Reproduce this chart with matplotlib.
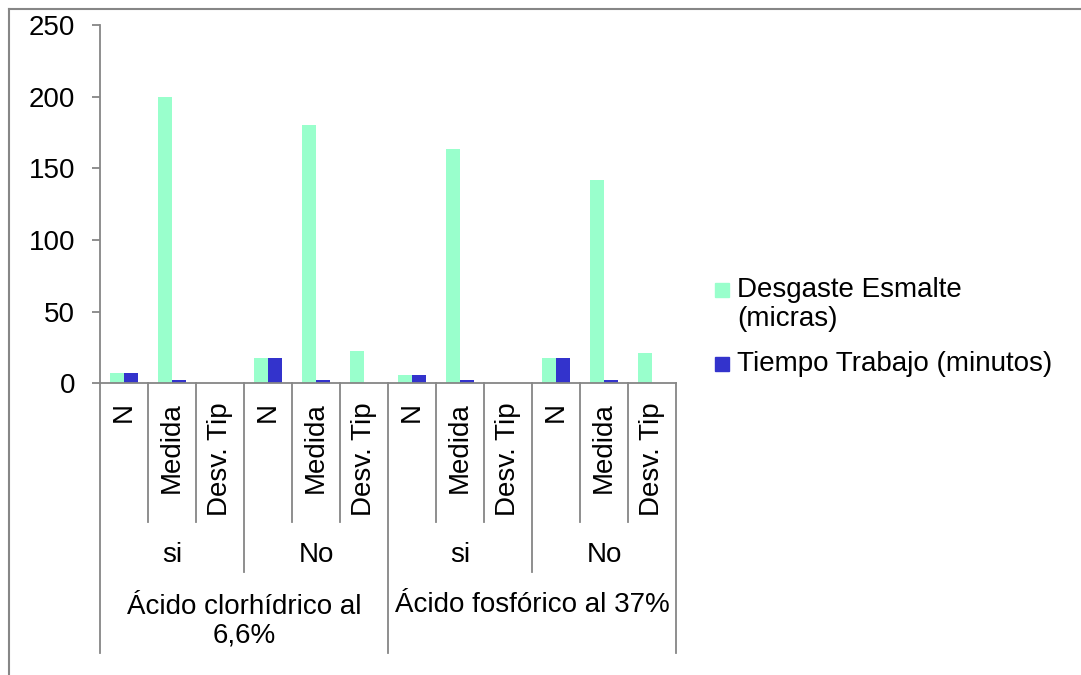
import matplotlib.pyplot as plt
from matplotlib.patches import Rectangle
from matplotlib.lines import Line2D
from matplotlib.transforms import blended_transform_factory
import numpy as np

plt.rcParams['font.family'] = ['Liberation Sans', 'DejaVu Sans']

# data
stats = ['N', 'Medida', 'Desv. Tip'] * 4
grupos = ['si', 'No', 'si', 'No']
acidos = ['Ácido clorhídrico al\n6,6%', 'Ácido fosfórico al 37%']
desgaste = [7.5, 200, 0.3, 17.5, 180, 22.5, 5.5, 163.5, 0.3, 17.5, 142, 21]
tiempo = [7.5, 2, 0.5, 17.5, 2.3, 0.3, 5.8, 2.3, 0.3, 17.5, 2, 0.5]
series = ['Desgaste Esmalte\n(micras)', 'Tiempo Trabajo (minutos)']
colores = ['#99FFCC', '#3333CC']

W, H = 1081, 675
fig = plt.figure(figsize=(W / 100, H / 100), dpi=100)
ax = fig.add_axes([100 / W, 1 - 383.3 / H, 576 / W, 358.3 / H])

x = np.arange(len(stats))
w = 0.285
ax.bar(x - w / 2, desgaste, w, color=colores[0])
ax.bar(x + w / 2, tiempo, w, color=colores[1])

gris = '#868686'
fs = 20
ax.set_xlim(-0.5, len(stats) - 0.5)
ax.set_ylim(0, 250)
ax.set_yticks(range(0, 251, 50))
ax.set_xticks([])
for s in ['top', 'right']:
    ax.spines[s].set_visible(False)
for s in ['left', 'bottom']:
    ax.spines[s].set_color(gris)
    ax.spines[s].set_linewidth(1.3)
ax.tick_params(axis='y', direction='out', length=6, width=1.3, color=gris,
               labelsize=fs, pad=12)

# hierarchical category axis
tr = blended_transform_factory(ax.transData, fig.transFigure)
def fy(p):
    return 1 - p / H

for i, s in enumerate(stats):
    ax.text(i, fy(402), s, transform=tr, rotation=90, ha='center', va='top',
            fontsize=fs, clip_on=False)
for j, g in enumerate(grupos):
    ax.text(3 * j + 1, fy(555), g, transform=tr, ha='center', va='center',
            fontsize=fs, clip_on=False)
for k, (a, yc) in enumerate(zip(acidos, [621, 605])):
    ax.text(6 * k + 2.5, fy(yc), a, transform=tr, ha='center', va='center',
            fontsize=fs, linespacing=1.15, clip_on=False)

for b in np.arange(-0.5, len(stats), 1.0):
    if b in (-0.5, 5.5, 11.5):
        end = 653
    elif b in (2.5, 8.5):
        end = 572
    else:
        end = 522
    ax.add_line(Line2D([b, b], [fy(383.3), fy(end)], transform=tr, color=gris,
                       lw=1.3, clip_on=False))

# legend
for c, lab, yy in zip(colores, series, [283, 357]):
    fig.patches.append(Rectangle((715 / W, fy(yy + 14)), 14 / W, 14 / H,
                                 transform=fig.transFigure, color=c))
    fig.text(737 / W, fy(yy - 6), lab, fontsize=fs, va='top', ha='left',
             linespacing=1.15)

# outer border (top and left only visible)
fig.add_artist(Line2D([9 / W, 1], [fy(9), fy(9)], color=gris, lw=1.5))
fig.add_artist(Line2D([9 / W, 9 / W], [fy(9), 0], color=gris, lw=1.5))

fig.savefig('out.png', dpi=100)
